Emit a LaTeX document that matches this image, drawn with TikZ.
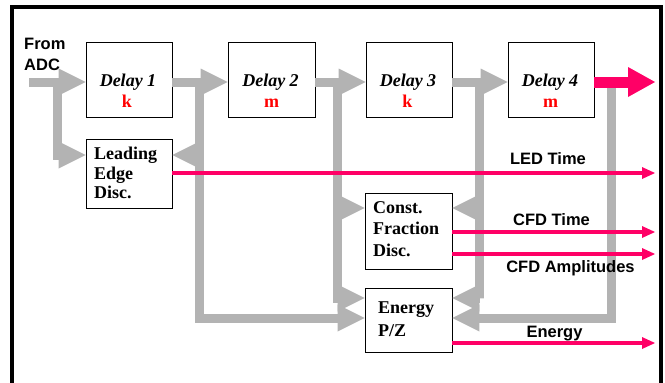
\documentclass[tikz,border=0pt]{standalone}
\usepackage{fontspec}
\setmainfont{Liberation Serif}
\newfontfamily\arialfont{Liberation Sans}
\usetikzlibrary{arrows.meta}
\definecolor{bargrey}{HTML}{B3B3B3}
\definecolor{sigpink}{HTML}{FF0066}
\definecolor{delred}{HTML}{FF0000}
\begin{document}
\begin{tikzpicture}[x=1pt,y=-1pt,
  box/.style={draw=black, line width=0.8pt, fill=white, inner sep=0pt},
  dtxt/.style={inner sep=0pt, anchor=base, font=\fontsize{18}{21}\selectfont\bfseries\itshape},
  ktxt/.style={inner sep=0pt, anchor=base, text=delred, font=\fontsize{18}{21}\selectfont\bfseries},
  btxt/.style={inner sep=0pt, anchor=base west, font=\fontsize{18}{21}\selectfont\bfseries},
  ltxt/.style={inner sep=0pt, anchor=base, font=\arialfont\fontsize{16.5}{20}\selectfont\bfseries},
  greybar/.style={draw=bargrey, line width=9pt, line join=miter,
    -{Triangle[length=27pt,width=27pt,line width=0pt]}},
  pinkbig/.style={draw=sigpink, line width=11pt,
    -{Triangle[length=27pt,width=30pt,line width=0pt]}},
  pinkthin/.style={draw=sigpink, line width=4pt,
    -{Triangle[length=13pt,width=12pt,line width=0pt]}}
]
\useasboundingbox (0,0) rectangle (665,383);
\fill[white] (0,0) rectangle (665,383);
\draw[line width=3.5pt] (12,395) -- (12,7) -- (661,7) -- (661,395);

% boxes
\node[box, minimum width=86pt, minimum height=75pt] (d1) at (129,79.5) {};
\node[box, minimum width=87pt, minimum height=75pt] (d2) at (271.5,79.5) {};
\node[box, minimum width=86pt, minimum height=75pt] (d3) at (409,79.5) {};
\node[box, minimum width=86pt, minimum height=75pt] (d4) at (551,79.5) {};
\node[box, minimum width=86pt, minimum height=69pt] (led) at (129,173.5) {};
\node[box, minimum width=87pt, minimum height=76pt] (cfd) at (408.5,231) {};
\node[box, minimum width=87pt, minimum height=64pt] (en) at (408.5,320) {};

% reference points
\coordinate (in) at (29,82);
\coordinate (j0) at (57.5,82);
\coordinate (j1) at (199,82);
\coordinate (j2) at (337.5,82);
\coordinate (j3) at (479,82);
\coordinate (j4) at (611,87);
\coordinate (out) at (655,82);
\coordinate (yled) at (0,155);
\coordinate (ycfd) at (0,208);
\coordinate (yen1) at (0,298);
\coordinate (yen2) at (0,318);
\coordinate (ledT) at (655,173);
\coordinate (cfdT) at (655,232);
\coordinate (cfdA) at (655,254);
\coordinate (enO) at (655,343);

% grey buses
\draw[greybar] (in) -- (in -| d1.west);
\draw[greybar] (j0) |- (yled -| led.west);
\draw[greybar] (d1.east |- in) -- (in -| d2.west);
\draw[greybar] (j1) |- (yen2 -| en.west);
\draw[greybar] (j1 |- yled) -- (yled -| led.east);
\draw[greybar] (d2.east |- in) -- (in -| d3.west);
\draw[greybar] (j2) |- (yen1 -| en.west);
\draw[greybar] (j2 |- ycfd) -- (ycfd -| cfd.west);
\draw[greybar] (d3.east |- in) -- (in -| d4.west);
\draw[greybar] (j3) |- (yen1 -| en.east);
\draw[greybar] (j3 |- ycfd) -- (ycfd -| cfd.east);
\draw[greybar] (j4) |- (yen2 -| en.east);

% pink outputs
\draw[pinkbig] (d4.east |- in) -- (out);
\draw[pinkthin] (ledT -| led.east) -- (ledT);
\draw[pinkthin] (cfdT -| cfd.east) -- (cfdT);
\draw[pinkthin] (cfdA -| cfd.east) -- (cfdA);
\draw[pinkthin] (enO -| en.east) -- (enO);

% box texts
\node[dtxt] (d1t) at (128,86) {Delay 1};
\node[ktxt] (d1k) at (127,107) {k};
\node[dtxt] (d2t) at (270.5,86) {Delay 2};
\node[ktxt] (d2k) at (271.5,107) {m};
\node[dtxt] (d3t) at (408,86) {Delay 3};
\node[ktxt] (d3k) at (407.5,107) {k};
\node[dtxt] (d4t) at (550,86) {Delay 4};
\node[ktxt] (d4k) at (550.5,107) {m};

\node[btxt] (led1) at (94,159) {Leading};
\node[btxt] (led2) at (94,179) {Edge};
\node[btxt] (led3) at (94,198) {Disc.};
\node[btxt] (cfd1) at (373,213) {Const.};
\node[btxt] (cfd2) at (373,234) {Fraction};
\node[btxt] (cfd3) at (373,256) {Disc.};
\node[btxt] (en1) at (378,313) {Energy};
\node[btxt] (en2) at (378,336) {P/Z};

% labels
\node[ltxt, anchor=base west] (fr1) at (24,49) {From};
\node[ltxt, anchor=base west] (fr2) at (24,70) {ADC};
\node[ltxt] (lbl1) at (548,164) {LED Time};
\node[ltxt] (lbl2) at (551.5,225) {CFD Time};
\node[ltxt] (lbl3) at (570.5,272) {CFD Amplitudes};
\node[ltxt] (lbl4) at (554.5,337) {Energy};
\end{tikzpicture}
\end{document}
